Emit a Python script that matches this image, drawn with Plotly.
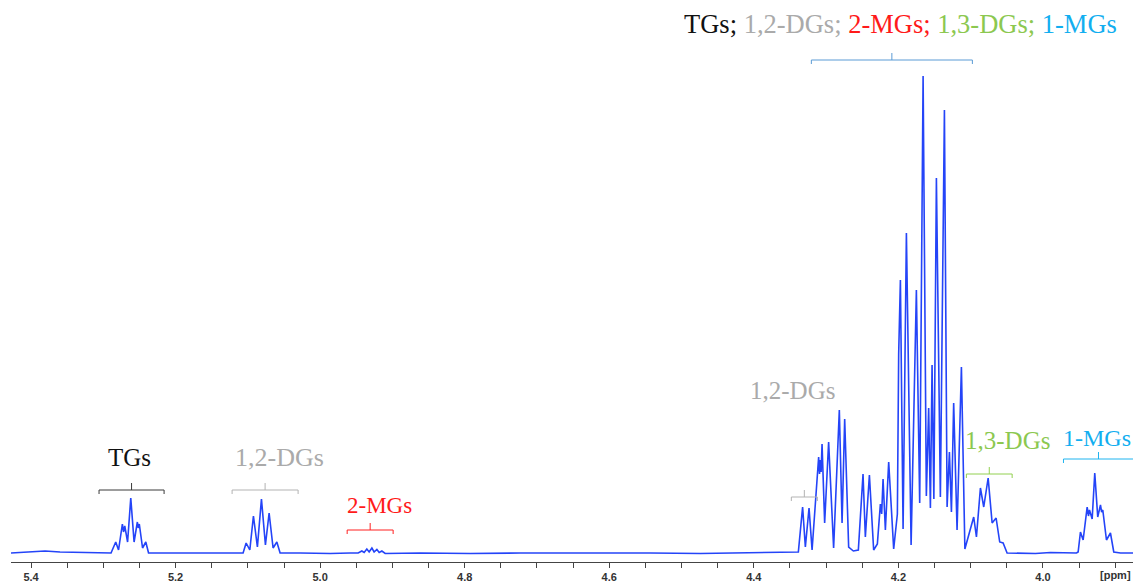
import plotly.graph_objects as go

# 1H NMR spectrum (chemical shift in ppm, intensity in arbitrary units)
ppm = [5.4277, 5.4014, 5.3806, 5.3599, 5.3391, 5.3183, 5.2976,
       # TGs multiplet
       5.2893, 5.2828, 5.2789, 5.2736, 5.2720, 5.2703, 5.2664, 5.2620, 5.2574,
       5.2529, 5.2516, 5.2502, 5.2457, 5.2412, 5.2374,
       5.2215, 5.1661, 5.1107,
       # 1,2-DGs multiplet
       5.1066, 5.1024, 5.0973, 5.0923, 5.0868, 5.0812, 5.0757, 5.0706, 5.0651,
       5.0599, 5.0554,
       5.0277, 4.9862, 4.9585,
       # 2-MGs
       4.9474, 4.9423, 4.9391, 4.9354, 4.9322, 4.9284, 4.9253, 4.9215, 4.9183,
       4.9146, 4.9100,
       4.8616, 4.7924, 4.7232, 4.6678, 4.6125, 4.5433, 4.4740, 4.4048, 4.3426,
       # main cluster
       4.3384, 4.3325, 4.3287, 4.3236, 4.3194, 4.3103, 4.3091, 4.3080, 4.3069,
       4.3056, 4.3020, 4.2965, 4.2896, 4.2817, 4.2779, 4.2743, 4.2688, 4.2623,
       4.2554, 4.2489, 4.2457, 4.2401, 4.2342, 4.2291, 4.2249, 4.2231, 4.2212,
       4.2180, 4.2134, 4.2065, 4.2014, 4.1996, 4.1972, 4.1935, 4.1889, 4.1824,
       4.1751, 4.1705, 4.1658, 4.1613, 4.1581, 4.1557, 4.1534, 4.1509, 4.1474,
       4.1419, 4.1363, 4.1326, 4.1294, 4.1266, 4.1235, 4.1188, 4.1128, 4.1080,
       # 1,3-DGs
       4.0958, 4.0920, 4.0865, 4.0819, 4.0758, 4.0703, 4.0648, 4.0598, 4.0551,
       4.0496, 4.0311, 4.0104, 3.9896, 3.9689, 3.9536,
       # 1-MGs
       3.9513, 3.9481, 3.9444, 3.9388, 3.9370, 3.9356, 3.9319, 3.9283, 3.9242,
       3.9204, 3.9188, 3.9172, 3.9121, 3.9066, 3.9020, 3.8927, 3.8747]

intensity = [1, 2, 3, 2, 1.5, 1, 1,
             1, 12, 4, 30, 22, 28, 12, 56, 12,
             32, 26, 30, 6, 12, 1,
             1, 1, 1,
             1, 11, 4, 38, 7, 55, 9, 41, 6,
             12, 1,
             1, 0.5, 1,
             1, 3, 1.5, 5, 2, 6, 2, 4.5, 1.5,
             3, 0.5,
             1, 0.5, 1, 1, 1.5, 1, 0.5, 1, 1.5,
             2, 47, 7, 46, 4, 97, 80, 94, 82,
             110, 31, 112, 6, 144, 31, 135, 7, 3,
             4, 80, 17, 79, 4, 10, 50, 40, 75,
             24, 92, 5, 40, 200, 274, 25, 321, 9,
             264, 51, 478, 58, 146, 46, 189, 55, 376,
             57, 444, 47, 102, 42, 151, 24, 187, 5,
             37, 17, 66, 47, 76, 31, 36, 12, 11,
             1, 1, 0.5, 1.5, 1, 1,
             2, 22, 14, 47, 38, 44, 35, 81, 37,
             49, 42, 44, 14, 21, 2, 1, 1]

fig = go.Figure()
fig.add_trace(go.Scatter(x=ppm, y=intensity, mode='lines',
                         line=dict(color='#2444f8', width=1.6),
                         hoverinfo='skip', showlegend=False))

serif = 'Liberation Serif, Times New Roman, serif'

# brackets: (left ppm, right ppm, level, colour)
brackets = [
    (5.3059, 5.2159, 64, '#3a3a3a'),
    (5.1218, 5.0305, 64, '#b3b3b3'),
    (4.9626, 4.8990, 24, '#ff2020'),
    (4.3481, 4.3121, 57, '#b3b3b3'),
    (4.1059, 4.0426, 80, '#92d050'),
    (3.9716, 3.8747, 95, '#1fb4f0'),
    (4.3204, 4.0976, 494, '#5b9bd5'),
]
for x0, x1, lvl, col in brackets:
    xc = (x0 + x1) / 2
    fig.add_trace(go.Scatter(x=[x0, x0, x1, x1], y=[lvl - 4, lvl, lvl, lvl - 4],
                             mode='lines', line=dict(color=col, width=1),
                             hoverinfo='skip', showlegend=False))
    fig.add_trace(go.Scatter(x=[xc, xc], y=[lvl, lvl + 7],
                             mode='lines', line=dict(color=col, width=1),
                             hoverinfo='skip', showlegend=False))

labels = [
    (5.2637, 97, 'TGs', '#111111', 25),
    (5.0568, 97, '1,2-DGs', '#aaaaaa', 26),
    (4.9177, 49, '2-MGs', '#ff1a1a', 23),
    (4.3467, 164, '1,2-DGs', '#aaaaaa', 25),
    (4.0491, 114, '1,3-DGs', '#8cc850', 25),
    (3.9246, 116, '1-MGs', '#12aef0', 24),
]
for x, y, txt, col, sz in labels:
    fig.add_annotation(x=x, y=y, text=txt, showarrow=False, xanchor='center',
                       yanchor='middle', font=dict(family=serif, size=sz, color=col))

title_txt = ("TGs; <span style='color:#aaaaaa'>1,2-DGs;</span> "
             "<span style='color:#ff1a1a'>2-MGs;</span> "
             "<span style='color:#8cc850'>1,3-DGs;</span> "
             "<span style='color:#12aef0'>1-MGs</span>")
fig.add_annotation(x=4.1965, y=530, text=title_txt, showarrow=False,
                   xanchor='center', yanchor='middle',
                   font=dict(family=serif, size=26.5, color='#111111'))

fig.add_annotation(xref='paper', yref='paper', x=1, y=0, yshift=-13,
                   text='[ppm]', showarrow=False, xanchor='right', yanchor='middle',
                   font=dict(family='Liberation Sans, Arial', size=11, color='#333333',
                             weight='bold'))

fig.update_xaxes(range=[5.4277, 3.8754], autorange=False, showline=True,
                 linecolor='#444444', linewidth=1, ticks='outside', ticklen=5,
                 tickcolor='#444444', dtick=0.2, tick0=0, tickformat='.1f',
                 showgrid=False, zeroline=False,
                 tickfont=dict(family='Liberation Sans, Arial', size=11,
                               color='#333333', weight='bold'),
                 minor=dict(dtick=0.05, ticks='outside', ticklen=5,
                            tickcolor='#444444', showgrid=False))
fig.update_yaxes(range=[-8, 554], visible=False, showgrid=False, zeroline=False)

fig.update_layout(width=1135, height=584, plot_bgcolor='white', paper_bgcolor='white',
                  margin=dict(l=11, r=2, t=0, b=22))

# drop the browser's default page margin so the figure sits at the window corner
fig.write_html("out.html", config={'displayModeBar': False},
               post_script="document.body.style.margin='0';")
